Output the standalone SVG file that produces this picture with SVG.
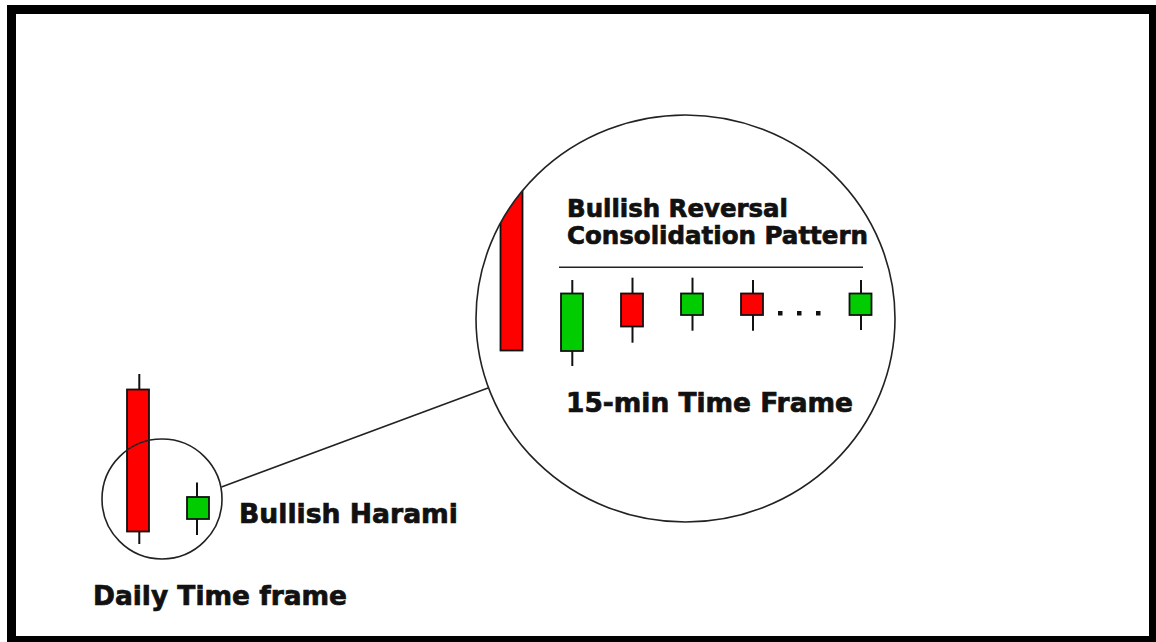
<svg xmlns="http://www.w3.org/2000/svg" width="1156" height="642" viewBox="0 0 1156 642">
<style>
.lbl{font-family:"DejaVu Sans","Liberation Sans",Arial,sans-serif;font-weight:bold;fill:#111;stroke:#111;stroke-width:0.7}
.red{fill:#ff0000;stroke:#111;stroke-width:1.8}
.grn{fill:#00cc00;stroke:#111;stroke-width:1.8}
.wick{stroke:#111;stroke-width:2}
.ring{fill:none;stroke:#222;stroke-width:1.6}
</style>
<defs>
<clipPath id="bigclip"><ellipse cx="685.5" cy="318.5" rx="209.5" ry="203.5"/></clipPath>
</defs>
<rect x="0" y="0" width="1156" height="642" fill="#fff"/>
<rect x="11.5" y="9.5" width="1142" height="631" fill="none" stroke="#000" stroke-width="9"/>

<g id="connectors">
<line x1="221.5" y1="487" x2="488" y2="388" stroke="#222" stroke-width="1.6"/>
</g>

<g id="daily">
<line class="wick" x1="139.3" y1="374" x2="139.3" y2="544"/>
<rect class="red" x="127" y="389.5" width="22" height="142"/>
<line class="wick" x1="197" y1="482.5" x2="197" y2="535"/>
<rect class="grn" x="187" y="497" width="22" height="22"/>
<circle class="ring" cx="162" cy="499" r="60"/>
<text class="lbl" x="239" y="522.5" font-size="27" textLength="219" lengthAdjust="spacingAndGlyphs">Bullish Harami</text>
<text class="lbl" x="93" y="605" font-size="27" textLength="254" lengthAdjust="spacingAndGlyphs">Daily Time frame</text>
</g>

<g id="zoom">
<g clip-path="url(#bigclip)">
<rect class="red" x="500.5" y="100" width="22" height="250.5"/>
</g>
<ellipse class="ring" cx="685.5" cy="318.5" rx="209.5" ry="203.5"/>
<text class="lbl" x="567" y="216.5" font-size="24" textLength="221" lengthAdjust="spacingAndGlyphs">Bullish Reversal</text>
<text class="lbl" x="567" y="244.3" font-size="24" textLength="301" lengthAdjust="spacingAndGlyphs">Consolidation Pattern</text>
<line x1="559" y1="267.3" x2="863" y2="267.3" stroke="#222" stroke-width="1.6"/>

<line class="wick" x1="572.3" y1="280" x2="572.3" y2="366"/>
<rect class="grn" x="561" y="293.5" width="22" height="57.5"/>
<line class="wick" x1="632.5" y1="277.7" x2="632.5" y2="342.7"/>
<rect class="red" x="621" y="293.5" width="22" height="33"/>
<line class="wick" x1="692.5" y1="277.7" x2="692.5" y2="330.7"/>
<rect class="grn" x="681" y="293.5" width="22" height="21.5"/>
<line class="wick" x1="753" y1="280" x2="753" y2="330.7"/>
<rect class="red" x="741" y="293.5" width="22" height="21.5"/>
<rect x="778" y="311" width="4.5" height="4.5" fill="#111"/>
<rect x="797" y="311" width="4.5" height="4.5" fill="#111"/>
<rect x="816" y="311" width="4.5" height="4.5" fill="#111"/>
<line class="wick" x1="861" y1="280" x2="861" y2="330"/>
<rect class="grn" x="849.5" y="293.5" width="22" height="21.5"/>

<text class="lbl" x="566" y="411.7" font-size="27" textLength="287" lengthAdjust="spacingAndGlyphs">15-min Time Frame</text>
</g>
</svg>
